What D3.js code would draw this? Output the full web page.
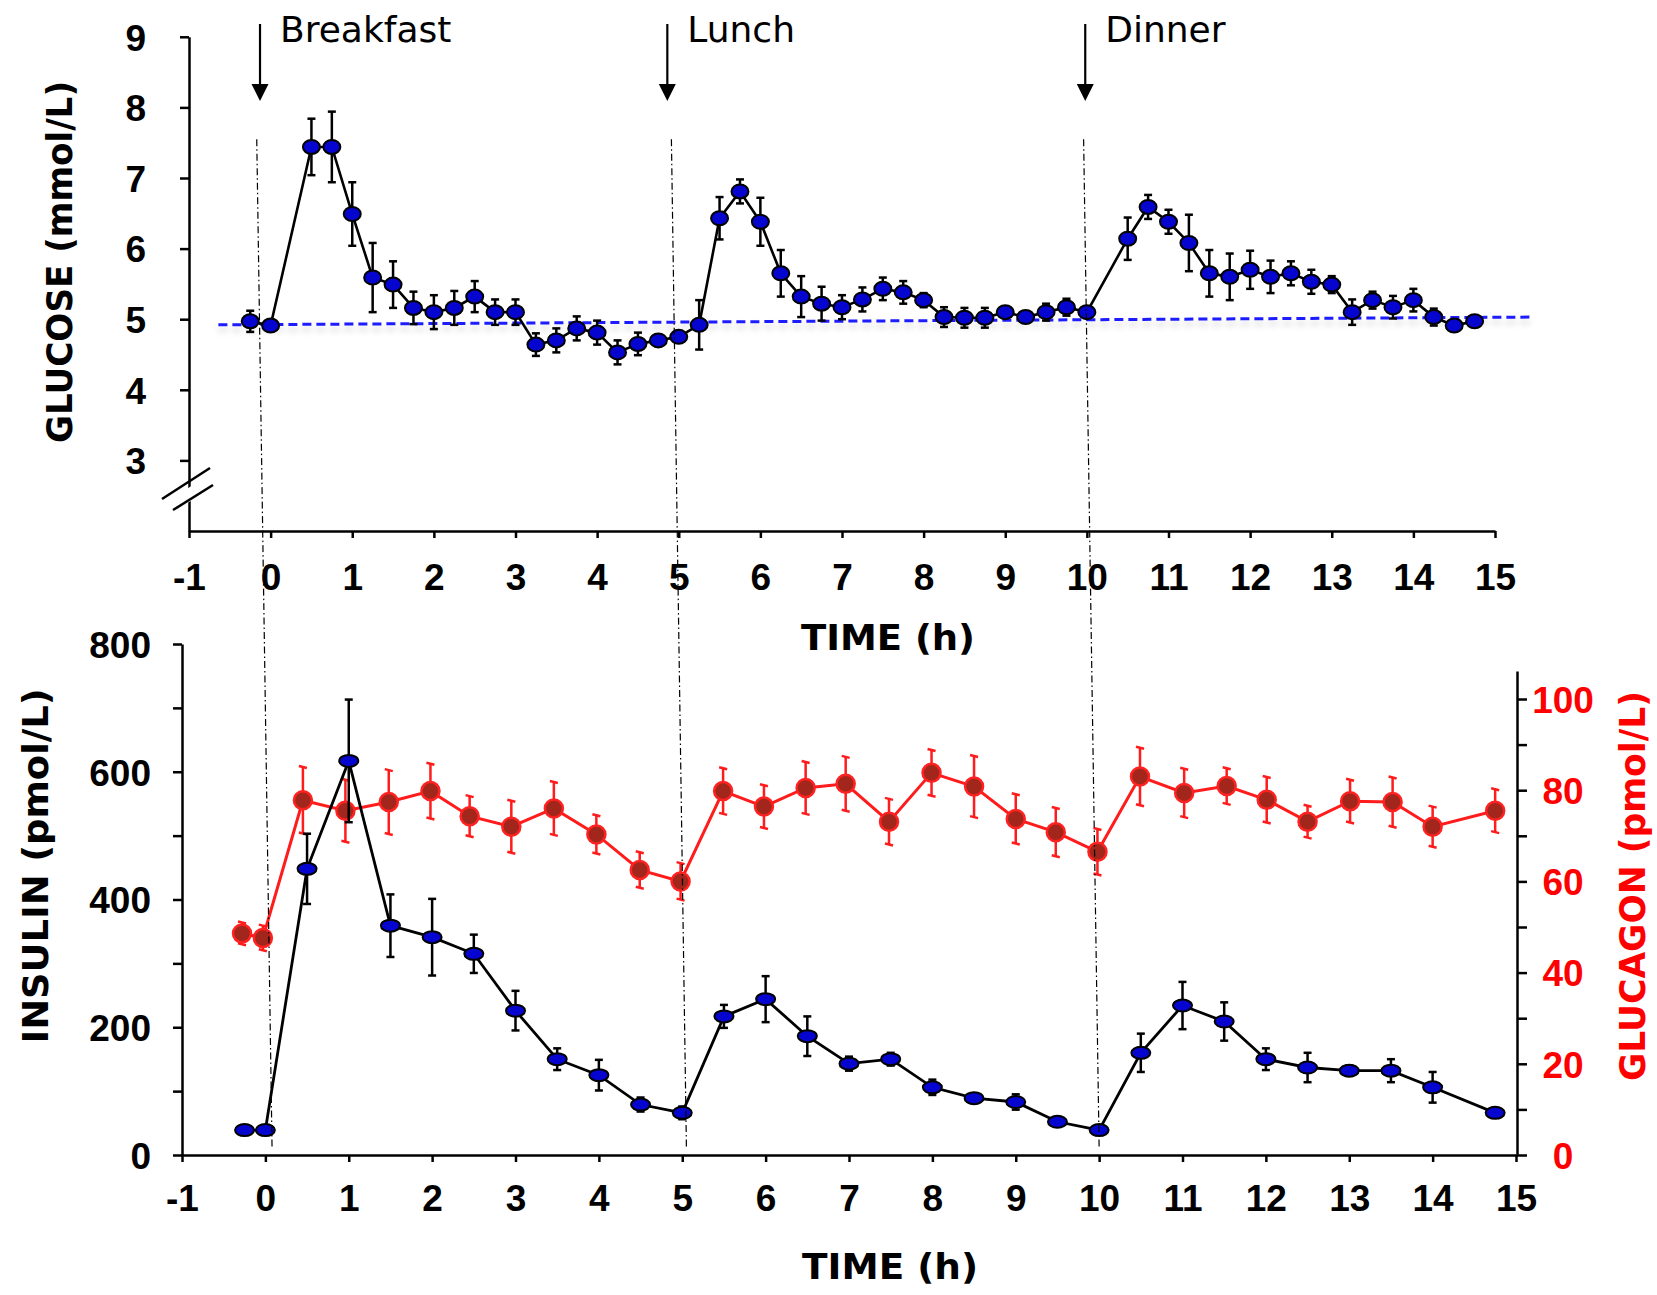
<!DOCTYPE html>
<html><head><meta charset="utf-8">
<script src="https://cdn.jsdelivr.net/npm/d3@7"></script>
<style>
html,body{margin:0;padding:0;background:#fff;}
svg{display:block;}
.num{font-family:"Liberation Sans", Arimo, Arial, Helvetica, sans-serif; font-weight:bold;}
</style></head>
<body>
<svg id="chart" width="1657" height="1295"></svg>
<script>
// ---------------- DATA ----------------
const glucoseTime = [-0.25,0,0.5,0.75,1,1.25,1.5,1.75,2,2.25,2.5,2.75,3,3.25,3.5,3.75,4,4.25,4.5,4.75,5,5.25,5.5,5.75,6,6.25,6.5,6.75,7,7.25,7.5,7.75,8,8.25,8.5,8.75,9,9.25,9.5,9.75,10,10.5,10.75,11,11.25,11.5,11.75,12,12.25,12.5,12.75,13,13.25,13.5,13.75,14,14.25,14.5,14.75];
const glucoseMean = [4.97,4.91,7.44,7.44,6.49,5.59,5.49,5.16,5.10,5.16,5.32,5.10,5.10,4.64,4.70,4.87,4.81,4.53,4.65,4.70,4.75,4.92,6.43,6.81,6.38,5.65,5.32,5.22,5.17,5.28,5.43,5.38,5.27,5.03,5.02,5.02,5.10,5.03,5.10,5.17,5.10,6.14,6.59,6.38,6.08,5.65,5.60,5.70,5.60,5.65,5.53,5.49,5.10,5.27,5.17,5.27,5.03,4.91,4.97];
const glucoseSE   = [0.15,0,0.40,0.50,0.45,0.49,0.33,0.23,0.24,0.24,0.22,0.18,0.18,0.16,0.17,0.17,0.17,0.17,0.16,0.08,0.08,0.35,0.30,0.17,0.34,0.33,0.29,0.24,0.17,0.17,0.16,0.16,0.10,0.14,0.14,0.14,0.08,0.05,0.12,0.12,0.07,0.30,0.17,0.17,0.40,0.33,0.33,0.27,0.23,0.17,0.17,0.12,0.18,0.12,0.16,0.16,0.12,0,0];

const insulinTime = [-0.25,0,0.5,1,1.5,2,2.5,3,3.5,4,4.5,5,5.5,6,6.5,7,7.5,8,8.5,9,9.5,10,10.5,11,11.5,12,12.5,13,13.5,14,14.75];
const insulinMean = [39,39,448,617,359,341,315,226,150,125,79,66,217,244,186,143,150,106,89,83,52,39,160,234,209,150,137,132,132,106,66];
const insulinSE   = [0,0,55,96,49,60,30,31,17,24,11,10,18,36,31,11,10,12,4,12,3,0,30,37,30,17,23,8,18,24,0];

const glucagonTime = [-0.28,-0.03,0.45,0.96,1.48,1.98,2.45,2.95,3.46,3.97,4.49,4.98,5.49,5.98,6.48,6.96,7.48,7.99,8.5,9.0,9.48,9.98,10.49,11.02,11.53,12.01,12.5,13.01,13.52,14.0,14.75];
const glucagonMean = [48.6,47.6,77.8,75.5,77.4,79.8,74.3,72.0,76.0,70.3,62.5,60.0,79.8,76.4,80.5,81.4,73.1,83.8,80.8,73.7,70.8,66.5,83.0,79.4,80.9,77.9,73.1,77.6,77.4,72.0,75.5];
const glucagonSE   = [2.4,2.7,7.3,6.8,7.0,6.0,4.4,5.7,5.8,4.2,3.9,4.0,5.0,4.7,5.7,5.9,5.0,5.0,6.7,5.4,5.3,5.0,6.3,5.3,3.9,5.0,3.5,4.7,5.4,4.4,4.7];

// reference (baseline) lines
const glucoseBaseline = [{t:-0.64, v:4.92},{t:15.44, v:5.03}];
const glucagonBaseline = [{t:0.08, v:79.3},{t:14.82, v:79.3}];

// meals
const mealNames = ["Breakfast","Lunch","Dinner"];
const mealArrowTime = [-0.13, 4.86, 9.98];
const mealLineTopTime = [-0.17, 4.91, 9.96];
const mealLineBottomTime = [0.08, 5.05, 10.0];
const mealLineTopGlucose = 7.55;
const mealLineBottomInsulin = 12;

// ticks
const timeTicks = d3.range(-1, 16, 1);
const timeTickLabels = timeTicks.map(d => String(d));
const glucoseTicks = [3,4,5,6,7,8,9];
const insulinTicks = d3.range(0, 801, 100);
const glucagonTicks = d3.range(0, 101, 10);

// ---------------- SCALES ----------------
const xTop = d3.scaleLinear().domain([-1,15]).range([189,1495]);
const yTop = d3.scaleLinear().domain([2,9]).range([531,36.8]);
const xBot = d3.scaleLinear().domain([-1,15]).range([182,1516]);
const yIns = d3.scaleLinear().domain([0,800]).range([1155,644]);
const yGlu = d3.scaleLinear().domain([0,100]).range([1155,699]);

const svg = d3.select("#chart");
const TITLE_FONT = "'Comic Sans MS', 'DejaVu Sans', sans-serif";

const defs = svg.append("defs");
const sh = defs.append("filter").attr("id","shadow").attr("x","-5%").attr("y","-200%").attr("width","110%").attr("height","500%");
sh.append("feDropShadow").attr("dx",0).attr("dy",5).attr("stdDeviation",3).attr("flood-color","#000").attr("flood-opacity",0.18);
const soft = defs.append("filter").attr("id","soft");
soft.append("feGaussianBlur").attr("stdDeviation",0.6);

function styleAxis(g, color){
  g.attr("font-family", null).attr("font-size", null);
  g.selectAll(".domain").attr("stroke", color||"#000").attr("stroke-width", 2.5);
  g.selectAll(".tick line").attr("stroke", color||"#000").attr("stroke-width", 2.5);
  g.selectAll(".tick text").attr("class","num").style("font-size","37px").attr("fill", color||"#000");
}
const tickLabel = d => timeTickLabels[timeTicks.indexOf(d)];

// ---------------- TOP CHART (GLUCOSE) ----------------
const gTop = svg.append("g");

const axTopX = gTop.append("g").attr("transform", `translate(0,${yTop(2)})`)
  .call(d3.axisBottom(xTop).tickValues(timeTicks).tickSize(7).tickSizeOuter(0).tickFormat(tickLabel));
styleAxis(axTopX);
axTopX.selectAll(".tick text").attr("y", 46).attr("dy","0.36em");

const axTopY = gTop.append("g").attr("transform", `translate(${xTop(-1)},0)`)
  .call(d3.axisLeft(yTop).tickValues(glucoseTicks).tickSize(9).tickPadding(34).tickSizeOuter(0).tickFormat(d => String(d)));
styleAxis(axTopY);
axTopY.selectAll(".tick text").attr("dy","0.36em");

// axis break
const brY = yTop(2.58), brX = xTop(-1);
gTop.append("path").attr("d", `M${brX-24},${brY+13} L${brX+21},${brY-16} L${brX+24},${brY-3} L${brX-16},${brY+22} Z`)
  .attr("fill","#fff").attr("stroke","none");
gTop.append("line").attr("x1",brX-27).attr("y1",brY+9).attr("x2",brX+21).attr("y2",brY-22).attr("stroke","#000").attr("stroke-width",2.5);
gTop.append("line").attr("x1",brX-16).attr("y1",brY+20).attr("x2",brX+24).attr("y2",brY-5).attr("stroke","#000").attr("stroke-width",2.5);

// baseline dashed blue
gTop.append("path").datum(glucoseBaseline)
  .attr("d", d3.line().x(d=>xTop(d.t)).y(d=>yTop(d.v)))
  .attr("stroke","#1a1aff").attr("stroke-width",3).attr("stroke-dasharray","9,5").attr("fill","none")
  .attr("filter","url(#shadow)");

const gData = glucoseTime.map((t,i)=>({t, v:glucoseMean[i], se:glucoseSE[i]}));
const ebTop = gTop.append("g").attr("stroke","#000").attr("stroke-width",2.5);
gData.filter(d=>d.se>0).forEach(d=>{
  const x = xTop(d.t), y1 = yTop(d.v+d.se), y2 = yTop(d.v-d.se);
  ebTop.append("line").attr("x1",x).attr("x2",x).attr("y1",y1).attr("y2",y2);
  ebTop.append("line").attr("x1",x-4).attr("x2",x+4).attr("y1",y1).attr("y2",y1);
  ebTop.append("line").attr("x1",x-4).attr("x2",x+4).attr("y1",y2).attr("y2",y2);
});
gTop.append("path").datum(gData)
  .attr("d", d3.line().x(d=>xTop(d.t)).y(d=>yTop(d.v)))
  .attr("stroke","#000").attr("stroke-width",2.6).attr("fill","none");
gTop.selectAll("ellipse.g").data(gData).join("ellipse")
  .attr("cx", d=>xTop(d.t)).attr("cy", d=>yTop(d.v)).attr("rx",8.5).attr("ry",7)
  .attr("fill","#0505cf").attr("stroke","#000").attr("stroke-width",2);

gTop.append("text").attr("transform",`translate(72,262) rotate(-90)`)
  .attr("text-anchor","middle").attr("font-family",TITLE_FONT).attr("font-weight","bold")
  .attr("font-size",35).attr("textLength",362).attr("lengthAdjust","spacingAndGlyphs")
  .text("GLUCOSE (mmol/L)");
gTop.append("text").attr("x",888).attr("y",650)
  .attr("text-anchor","middle").attr("font-family",TITLE_FONT).attr("font-weight","bold")
  .attr("font-size",36).attr("textLength",174).attr("lengthAdjust","spacingAndGlyphs")
  .text("TIME (h)");

mealNames.forEach((name,i)=>{
  const ax = xTop(mealArrowTime[i]);
  gTop.append("line").attr("x1",ax).attr("x2",ax).attr("y1",24).attr("y2",88).attr("stroke","#000").attr("stroke-width",2.2);
  gTop.append("path").attr("d",`M${ax-8.5},84 L${ax+8.5},84 L${ax},101 Z`).attr("fill","#000");
  gTop.append("text").attr("x",ax+20).attr("y",42).attr("font-family",TITLE_FONT)
    .attr("font-size",36).attr("fill","#000").text(name);
});

// ---------------- BOTTOM CHART (INSULIN / GLUCAGON) ----------------
const gBot = svg.append("g");

const axBotX = gBot.append("g").attr("transform",`translate(0,${yIns(0)})`)
  .call(d3.axisBottom(xBot).tickValues(timeTicks).tickSize(7).tickSizeOuter(0).tickFormat(tickLabel));
styleAxis(axBotX);
axBotX.selectAll(".tick text").attr("y",43).attr("dy","0.36em");

const axBotY = gBot.append("g").attr("transform",`translate(${xBot(-1)},0)`)
  .call(d3.axisLeft(yIns).tickValues(insulinTicks).tickSize(9).tickPadding(22).tickSizeOuter(0)
    .tickFormat(d => d%200===0 ? String(d) : ""));
styleAxis(axBotY);
axBotY.selectAll(".tick text").attr("dy","0.36em");

const yGluAxis = yGlu.copy().domain([0, yGlu.invert(671)]).range([1155,671]);
const axBotR = gBot.append("g").attr("transform",`translate(${xBot(15)+1},0)`)
  .call(d3.axisRight(yGluAxis).tickValues(glucagonTicks).tickSize(10).tickPadding(0).tickSizeOuter(0)
    .tickFormat(d => d%20===0 ? String(d) : ""));
styleAxis(axBotR);
axBotR.selectAll(".tick text").attr("fill","#ff0000").attr("text-anchor","middle").attr("x",46).attr("dy","0.36em");

gBot.append("path").datum(glucagonBaseline)
  .attr("d", d3.line().x(d=>xBot(d.t)).y(d=>yGlu(d.v)))
  .attr("stroke","#ff1a1a").attr("stroke-width",3).attr("stroke-dasharray","8,5").attr("fill","none")
  .attr("filter","url(#shadow)");

mealNames.forEach((name,i)=>{
  svg.append("line")
    .attr("x1", xTop(mealLineTopTime[i])).attr("y1", yTop(mealLineTopGlucose))
    .attr("x2", xBot(mealLineBottomTime[i])).attr("y2", yIns(mealLineBottomInsulin))
    .attr("stroke","#000").attr("stroke-width",1.2).attr("stroke-dasharray","7,3,1.5,3");
});

const cData = glucagonTime.map((t,i)=>({t, v:glucagonMean[i], se:glucagonSE[i]}));
const gRed = gBot.append("g").attr("filter","url(#soft)");
const ebRed = gRed.append("g").attr("stroke","#ff1a1a").attr("stroke-width",2.5);
cData.filter(d=>d.se>0).forEach(d=>{
  const x = xBot(d.t), y1 = yGlu(d.v+d.se), y2 = yGlu(d.v-d.se);
  ebRed.append("line").attr("x1",x).attr("x2",x).attr("y1",y1).attr("y2",y2);
  ebRed.append("line").attr("x1",x-4).attr("x2",x+4).attr("y1",y1-1).attr("y2",y1+1);
  ebRed.append("line").attr("x1",x-4).attr("x2",x+4).attr("y1",y2-1).attr("y2",y2+1);
});
gRed.append("path").datum(cData)
  .attr("d", d3.line().x(d=>xBot(d.t)).y(d=>yGlu(d.v)))
  .attr("stroke","#ff1a1a").attr("stroke-width",3).attr("fill","none");
gRed.selectAll("circle").data(cData).join("circle")
  .attr("cx", d=>xBot(d.t)).attr("cy", d=>yGlu(d.v)).attr("r",9)
  .attr("fill","#a3281e").attr("stroke","#ff2020").attr("stroke-width",2.5);

const iData = insulinTime.map((t,i)=>({t, v:insulinMean[i], se:insulinSE[i]}));
const ebIns = gBot.append("g").attr("stroke","#000").attr("stroke-width",2.5);
iData.filter(d=>d.se>0).forEach(d=>{
  const x = xBot(d.t), y1 = yIns(d.v+d.se), y2 = yIns(d.v-d.se);
  ebIns.append("line").attr("x1",x).attr("x2",x).attr("y1",y1).attr("y2",y2);
  ebIns.append("line").attr("x1",x-4).attr("x2",x+4).attr("y1",y1).attr("y2",y1);
  ebIns.append("line").attr("x1",x-4).attr("x2",x+4).attr("y1",y2).attr("y2",y2);
});
gBot.append("path").datum(iData)
  .attr("d", d3.line().x(d=>xBot(d.t)).y(d=>yIns(d.v)))
  .attr("stroke","#000").attr("stroke-width",2.8).attr("fill","none");
gBot.selectAll("ellipse").data(iData).join("ellipse")
  .attr("cx", d=>xBot(d.t)).attr("cy", d=>yIns(d.v)).attr("rx",9.5).attr("ry",6)
  .attr("fill","#0505cf").attr("stroke","#000").attr("stroke-width",2);

gBot.append("text").attr("transform",`translate(48,866) rotate(-90)`)
  .attr("text-anchor","middle").attr("font-family",TITLE_FONT).attr("font-weight","bold")
  .attr("font-size",36).attr("textLength",355).attr("lengthAdjust","spacingAndGlyphs")
  .text("INSULIN (pmol/L)");
gBot.append("text").attr("transform",`translate(1645,886) rotate(-90)`)
  .attr("text-anchor","middle").attr("font-family",TITLE_FONT).attr("font-weight","bold")
  .attr("font-size",35).attr("textLength",390).attr("lengthAdjust","spacingAndGlyphs")
  .attr("fill","#ff0000").text("GLUCAGON (pmol/L)");
gBot.append("text").attr("x",890).attr("y",1279)
  .attr("text-anchor","middle").attr("font-family",TITLE_FONT).attr("font-weight","bold")
  .attr("font-size",36).attr("textLength",176).attr("lengthAdjust","spacingAndGlyphs")
  .text("TIME (h)");
</script>
</body></html>
